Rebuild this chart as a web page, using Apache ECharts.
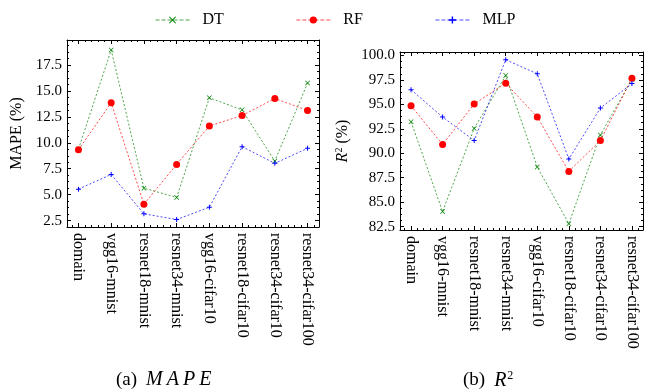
<!DOCTYPE html>
<html>
<head>
<meta charset="utf-8">
<script src="https://cdn.jsdelivr.net/npm/echarts@6/dist/echarts.min.js"></script>
<style>html,body{margin:0;padding:0;background:#fff}#main{width:646px;height:392px}</style>
</head>
<body>
<div id="main"></div>
<script>
var categories = ['domain', 'vgg16-mnist', 'resnet18-mnist', 'resnet34-mnist', 'vgg16-cifar10', 'resnet18-cifar10', 'resnet34-cifar10', 'resnet34-cifar100'];
var mapeDT = [9.4, 18.96, 5.63, 4.73, 14.34, 13.18, 8.24, 15.76];
var mapeRF = [9.34, 13.86, 4.08, 7.92, 11.63, 12.63, 14.28, 13.12];
var mapeMLP = [5.53, 6.95, 3.15, 2.6, 3.79, 9.63, 8.02, 9.47];
var r2DT = [93.22, 84.04, 92.54, 97.94, 88.6, 82.8, 91.88, 97.57];
var r2RF = [94.86, 90.89, 95.04, 97.16, 93.7, 88.15, 91.3, 97.67];
var r2MLP = [96.5, 93.7, 91.3, 99.56, 98.12, 89.41, 94.62, 97.12];
var mapeTicks = [2.5, 5, 7.5, 10, 12.5, 15, 17.5];
var r2Ticks = [82.5, 85, 87.5, 90, 92.5, 95, 97.5, 100];

var FONT = 'Liberation Serif';
var xTicks = categories.map(function (c, i) { return i; });

// minor ticks: 0.2 steps on x, quarter of a major step on y
var xMinor = [];
for (var k = -1; k <= 36; k++) {
  var xv = Math.round(k * 0.2 * 1e6) / 1e6;
  if (xv > -0.35 && xv < 7.35 && Math.abs(xv - Math.round(xv)) > 1e-6) xMinor.push(xv);
}
function yMinor(lo, hi, majors) {
  var out = [];
  for (var v = majors[0] - 0.625 * 4; v <= hi; v += 0.625) {
    var r = Math.round(v * 1e6) / 1e6;
    if (r > lo && majors.indexOf(r) < 0) out.push(r);
  }
  return out;
}

var LINE = { show: true, onZero: false, lineStyle: { color: '#000', width: 1 } };
var NOLINE = { show: false, onZero: false };

function xAxes(g) {
  var base = { type: 'value', gridIndex: g, min: -0.35, max: 7.35, splitLine: { show: false } };
  return [
    Object.assign({}, base, {
      position: 'bottom', axisLine: LINE,
      axisTick: { show: true, inside: true, length: 4, customValues: xTicks, lineStyle: { color: '#000' } },
      axisLabel: { customValues: xTicks, rotate: -90, margin: 6, fontFamily: FONT, fontSize: 16, color: '#000',
        formatter: function (v) { return categories[Math.round(v)]; } }
    }),
    Object.assign({}, base, {
      position: 'top', axisLine: LINE,
      axisTick: { show: true, inside: true, length: 4, customValues: xTicks, lineStyle: { color: '#000' } },
      axisLabel: { show: false }
    }),
    Object.assign({}, base, {
      position: 'bottom', axisLine: NOLINE,
      axisTick: { show: true, inside: true, length: 2, customValues: xMinor, lineStyle: { color: '#000' } },
      axisLabel: { show: false }
    }),
    Object.assign({}, base, {
      position: 'top', axisLine: NOLINE,
      axisTick: { show: true, inside: true, length: 2, customValues: xMinor, lineStyle: { color: '#000' } },
      axisLabel: { show: false }
    })
  ];
}

function yAxes(g, lo, hi, majors, name, nameGap) {
  var base = { type: 'value', gridIndex: g, min: lo, max: hi, splitLine: { show: false } };
  var mn = yMinor(lo, hi, majors);
  return [
    Object.assign({}, base, {
      position: 'left', axisLine: LINE,
      name: name, nameLocation: 'middle', nameGap: nameGap,
      nameTextStyle: { fontFamily: FONT, fontSize: 16, color: '#000',
        rich: {
          r: { fontFamily: FONT, fontSize: 16, fontStyle: 'italic', color: '#000' },
          s: { fontFamily: FONT, fontSize: 10, color: '#000', verticalAlign: 'top', padding: [0, 0, 8, 0] },
          t: { fontFamily: FONT, fontSize: 16, color: '#000' }
        } },
      axisTick: { show: true, inside: true, length: 4, customValues: majors, lineStyle: { color: '#000' } },
      axisLabel: { customValues: majors, margin: 5, fontFamily: FONT, fontSize: 15, color: '#000',
        formatter: function (v) { return v.toFixed(1); } }
    }),
    Object.assign({}, base, {
      position: 'right', axisLine: LINE,
      axisTick: { show: true, inside: true, length: 4, customValues: majors, lineStyle: { color: '#000' } },
      axisLabel: { show: false }
    }),
    Object.assign({}, base, {
      position: 'left', axisLine: NOLINE,
      axisTick: { show: true, inside: true, length: 2, customValues: mn, lineStyle: { color: '#000' } },
      axisLabel: { show: false }
    }),
    Object.assign({}, base, {
      position: 'right', axisLine: NOLINE,
      axisTick: { show: true, inside: true, length: 2, customValues: mn, lineStyle: { color: '#000' } },
      axisLabel: { show: false }
    })
  ];
}

var SYM_X = 'path://M1,0L5,4L9,0L10,1L6,5L10,9L9,10L5,6L1,10L0,9L4,5L0,1Z';
var SYM_PLUS = 'path://M4,0H6V4H10V6H6V10H4V6H0V4H4Z';

function pts(vals) { return vals.map(function (v, i) { return [i, v]; }); }
function mk(name, vals, g, color, symbol, size) {
  return {
    name: name, type: 'line', xAxisIndex: g * 4, yAxisIndex: g * 4,
    data: pts(vals), symbol: symbol, symbolSize: size, showSymbol: true,
    itemStyle: { color: color },
    lineStyle: { color: color, width: 1, type: [2, 2], opacity: 0.7 },
    emphasis: { disabled: true }, animation: false
  };
}

var capRich = {
  n: { fontFamily: FONT, fontSize: 19, fontWeight: 'normal', color: '#000', padding: [0, 7, 0, 0] },
  i: { fontFamily: FONT, fontSize: 20, fontWeight: 'normal', fontStyle: 'italic', color: '#000', padding: [0, 2, 0, 2] },
  r: { fontFamily: FONT, fontSize: 20, fontWeight: 'normal', fontStyle: 'italic', color: '#000', padding: [0, 1, 0, 2] },
  s: { fontFamily: FONT, fontSize: 12, fontWeight: 'normal', color: '#000', verticalAlign: 'top', padding: [0, 0, 9, 0] }
};

var chart = echarts.init(document.getElementById('main'), null, { renderer: 'canvas' });
chart.setOption({
  animation: false,
  backgroundColor: '#fff',
  legend: {
    top: 7, left: 150, itemWidth: 34, itemHeight: 9, itemGap: 72,
    data: ['DT', 'RF', 'MLP'],
    lineStyle: { type: 'dashed', width: 1 },
    textStyle: { fontFamily: FONT, fontSize: 16, color: '#000', padding: [0, 0, 0, 8] }
  },
  title: [
    { text: '{n|(a)}{i|M}{i|A}{i|P}{i|E}', left: 111, top: 365, textStyle: { fontWeight: 'normal', rich: capRich } },
    { text: '{n|(b)}{r|R}{s|2}', left: 458, top: 365, textStyle: { fontWeight: 'normal', rich: capRich } }
  ],
  grid: [
    { left: 67, top: 40, width: 252, height: 187 },
    { left: 400, top: 52, width: 243, height: 178 }
  ],
  xAxis: xAxes(0).concat(xAxes(1)),
  yAxis: yAxes(0, 1.88, 19.92, mapeTicks, 'MAPE (%)', 42).concat(
    yAxes(1, 82.16, 100.35, r2Ticks, '{r|R}{s|2}{t| (%)}', 48)),
  series: [
    mk('DT', mapeDT, 0, '#008000', SYM_X, 5),
    mk('RF', mapeRF, 0, '#ff0000', 'circle', 7),
    mk('MLP', mapeMLP, 0, '#0000ff', SYM_PLUS, 5),
    mk('DT', r2DT, 1, '#008000', SYM_X, 5),
    mk('RF', r2RF, 1, '#ff0000', 'circle', 7),
    mk('MLP', r2MLP, 1, '#0000ff', SYM_PLUS, 5)
  ]
});
</script>
</body>
</html>
